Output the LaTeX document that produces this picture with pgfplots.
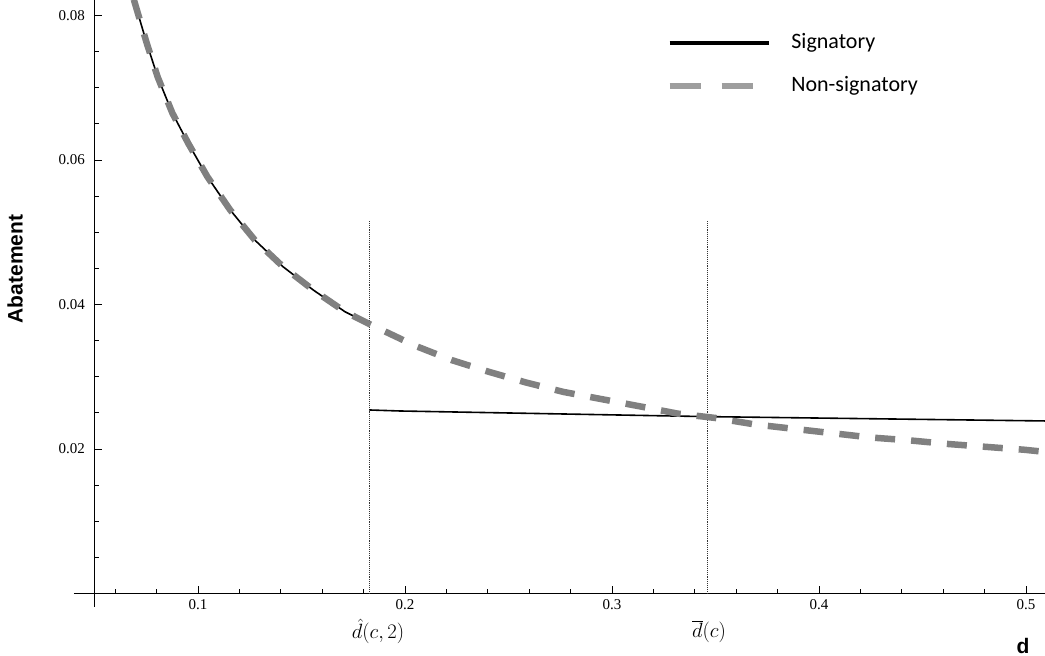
\documentclass[border=0pt]{standalone}
\usepackage{pgfplots}
\pgfplotsset{compat=1.18}
\usepackage{fontspec}
\setmainfont{Liberation Serif}
\newfontfamily\sansb{Liberation Sans}
\newfontfamily\calib{Carlito}
\pgfplotsset{
  sigleg/.style={legend image code/.code={\draw[##1] (0bp,0bp) -- (99bp,0bp);}},
  nonleg/.style={legend image code/.code={\draw[##1] (0bp,0bp) -- (84bp,0bp);}},
}
\begin{document}
\begin{tikzpicture}
\useasboundingbox (0,0) rectangle (1045bp,656bp);
\begin{axis}[
  at={(94.5bp,62.5bp)}, anchor=south west,
  scale only axis, width=950.5bp, height=593.2bp,
  xmin=0.05, xmax=0.5092, ymin=0, ymax=0.0821,
  axis lines=left, axis line style={-, line width=1.1bp},
  clip=false,
  xtick={0.1,0.2,0.3,0.4,0.5},
  minor xtick={0.06,0.08,0.12,0.14,0.16,0.18,0.22,0.24,0.26,0.28,0.32,0.34,0.36,0.38,0.42,0.44,0.46,0.48},
  ytick={0.02,0.04,0.06,0.08},
  minor ytick={0.005,0.01,0.015,0.025,0.03,0.035,0.045,0.05,0.055,0.065,0.07,0.075},
  tick align=inside,
  major tick length=7bp, minor tick length=4bp,
  every tick/.append style={black, line width=0.9bp},
  scaled ticks=false,
  /pgf/number format/assume math mode=true,
  xticklabel style={/pgf/number format/fixed, font=\fontsize{15bp}{17bp}\selectfont, yshift=-3bp},
  yticklabel style={/pgf/number format/fixed, /pgf/number format/precision=2, font=\fontsize{15bp}{17bp}\selectfont, xshift=-6bp},
  every axis y label/.style={at={(rel axis cs:-0.0836,0.547)}, rotate=90, anchor=center},
  every axis x label/.style={at={(rel axis cs:0.9769,-0.0885)}, anchor=center},
  ylabel={\sansb\bfseries\fontsize{21bp}{24bp}\selectfont Abatement},
  xlabel={\sansb\bfseries\fontsize{21bp}{24bp}\selectfont d},
  legend style={at={(axis cs:0.3264,0.07322)}, anchor=west, draw=none, fill=none,
    inner sep=0pt, outer sep=0pt, row sep=22bp, column sep=21bp,
    font=\calib\fontsize{22bp}{26bp}\selectfont,
    nodes={inner sep=0pt, text height=16bp, text depth=5bp}},
  legend cell align=left,
]
% vertical reference lines
\addplot[forget plot, black!80, densely dotted, line width=0.9bp] coordinates {(0.1828,0) (0.1828,0.0517)};
\addplot[forget plot, black!80, densely dotted, line width=0.9bp] coordinates {(0.3460,0) (0.3460,0.0517)};
% Signatory (black)
\addplot[forget plot, black, line width=1.6bp] coordinates {
(0.0690,0.0822) (0.0752,0.0762) (0.0805,0.0715) (0.0876,0.0665) (0.0953,0.0623)
(0.1045,0.0577) (0.1155,0.0531) (0.1275,0.0489) (0.1412,0.0452) (0.1557,0.0420)
(0.1710,0.0390) (0.1828,0.0373)};
\addplot[forget plot, black, line width=1.6bp] coordinates {
(0.1828,0.0254) (0.1976,0.02526) (0.3460,0.02448) (0.5092,0.02388)};
% Non-signatory (gray dashed)
\addplot[forget plot, black!50, line width=6.5bp, dash pattern=on 20bp off 16bp] coordinates {
(0.0690,0.0822) (0.0752,0.0762) (0.0805,0.0715) (0.0876,0.0665) (0.0953,0.0623)
(0.1045,0.0577) (0.1155,0.0531) (0.1275,0.0489) (0.1412,0.0452) (0.1557,0.0420)
(0.1710,0.0390) (0.1828,0.0373) (0.2048,0.0343) (0.2226,0.0323) (0.2403,0.0307)
(0.2585,0.0292) (0.2765,0.0279) (0.2950,0.0269) (0.3135,0.0259) (0.3317,0.0249)
(0.3498,0.0243) (0.3690,0.0234) (0.3876,0.0228) (0.4061,0.0222) (0.4246,0.0216)
(0.4435,0.0212) (0.4620,0.0207) (0.4805,0.0203) (0.4990,0.0199) (0.5092,0.0196)};
\addlegendimage{black, line width=3.5bp, sigleg}
\addlegendentry{Signatory}
\addlegendimage{black!38, line width=6bp, dash pattern=on 31bp off 21bp, nonleg}
\addlegendentry{Non-signatory}
% axis stubs
\draw[line width=1.1bp] (axis cs:0.04,0) -- (axis cs:0.05,0);
\draw[line width=1.1bp] (axis cs:0.05,0) -- (axis cs:0.05,-0.0019);
% threshold labels
\node[inner sep=0pt] at (axis cs:0.1870,-0.00525) {\fontsize{22bp}{26bp}\selectfont $\hat{d}(c,2)$};
\node[inner sep=0pt] at (axis cs:0.3469,-0.00525) {\fontsize{22bp}{26bp}\selectfont $\overline{d}(c)$};
\end{axis}
\end{tikzpicture}
\end{document}
